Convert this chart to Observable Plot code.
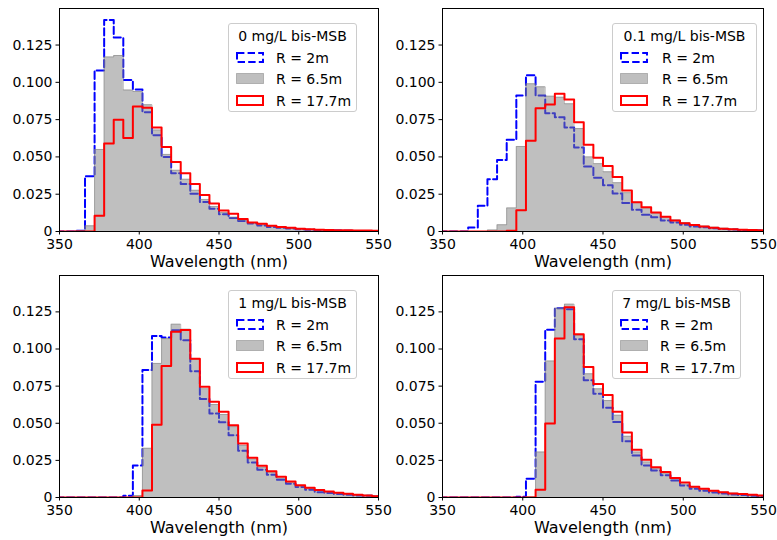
<!DOCTYPE html>
<html><head><meta charset="utf-8">
<script src="https://cdn.jsdelivr.net/npm/d3@7"></script>
<script src="https://cdn.jsdelivr.net/npm/@observablehq/plot@0.6"></script>
<style>
body{margin:0;background:#fff;font-family:"DejaVu Sans",sans-serif;}
#root{position:relative;width:777px;height:540px;overflow:hidden;background:#fff;}
.panel{position:absolute;}
.legend{position:absolute;background:rgba(255,255,255,0.8);border:1px solid #cccccc;border-radius:3px;box-sizing:border-box;font-size:14px;color:#000;font-family:"DejaVu Sans",sans-serif;}
.legend .t{position:absolute;left:0;right:0;text-align:center;line-height:16px;white-space:nowrap;}
.legend .row{position:absolute;left:0;right:0;height:16px;}
.legend .row svg{position:absolute;top:2px;}
.legend .row span{position:absolute;line-height:16px;white-space:nowrap;}
</style>
</head><body><div id="root"></div>
<script>
// bin edges (nm), 6 nm wide bins
const binEdges = [348,354,360,366,372,378,384,390,396,402,408,414,420,426,432,438,444,450,456,462,468,474,480,486,492,498,504,510,516,522,528,534,540,546,552];
const seriesNames = ["R = 2m","R = 6.5m","R = 17.7m"];
const panelTitles = ["0 mg/L bis-MSB","0.1 mg/L bis-MSB","1 mg/L bis-MSB","7 mg/L bis-MSB"];
const xLabel = "Wavelength (nm)";
const xTicks = [350,400,450,500,550];
const yTicks = [0,0.025,0.05,0.075,0.1,0.125];
const yTickLabels = ["0","0.025","0.050","0.075","0.100","0.125"];

// Panel 0 mg/L
const p0_r2   = [0,0,0.0005,0.037,0.108,0.1418,0.130,0.1015,0.0952,0.080,0.0645,0.050,0.039,0.0318,0.0253,0.0197,0.0152,0.0116,0.009,0.007,0.0054,0.004,0.003,0.0025,0.002,0.0015,0.0012,0.001,0.0008,0.0006,0.0005,0.0004,0.0003,0.0003];
const p0_r65  = [0,0,0.0005,0.0038,0.055,0.117,0.118,0.0948,0.0939,0.085,0.068,0.0517,0.041,0.035,0.0276,0.0215,0.0168,0.0128,0.0096,0.0076,0.0058,0.0046,0.0036,0.0029,0.0023,0.0018,0.0014,0.0011,0.0009,0.0007,0.0006,0.0005,0.0004,0.0003];
const p0_r177 = [0,0,0,0,0.0105,0.059,0.075,0.0627,0.0838,0.083,0.0697,0.0567,0.0466,0.039,0.0318,0.0244,0.0188,0.0141,0.0119,0.0083,0.006,0.0052,0.0038,0.0031,0.0025,0.0018,0.0015,0.0012,0.001,0.0009,0.0008,0.0007,0.0006,0.0005];
// Panel 0.1 mg/L
const p1_r2   = [0,0,0,0.0027,0.0173,0.035,0.048,0.0615,0.0912,0.1047,0.0912,0.0793,0.0766,0.0698,0.0563,0.0435,0.036,0.031,0.0255,0.0191,0.0146,0.0113,0.0095,0.0074,0.006,0.0045,0.0034,0.0028,0.0022,0.0017,0.0013,0.001,0.0008,0.0006];
const p1_r65  = [0,0,0,0,0,0.001,0.0045,0.0158,0.057,0.099,0.097,0.0907,0.090,0.0856,0.069,0.05,0.0455,0.040,0.0327,0.026,0.0196,0.0158,0.0124,0.0097,0.0077,0.006,0.0045,0.0036,0.0028,0.0022,0.0017,0.0013,0.001,0.0008];
const p1_r177 = [0,0,0,0,0,0,0,0.0005,0.0142,0.0608,0.0827,0.0851,0.0923,0.0885,0.0732,0.0581,0.0495,0.0439,0.0365,0.0275,0.0196,0.0162,0.0128,0.0099,0.0074,0.0056,0.0043,0.0034,0.0025,0.0018,0.0015,0.0012,0.001,0.0008];
// Panel 1 mg/L
const p2_r2   = [0,0,0,0,0,0,0,0.0011,0.0216,0.0858,0.1088,0.1077,0.1126,0.1059,0.0851,0.0664,0.0565,0.0507,0.0419,0.0315,0.0236,0.0187,0.0153,0.0119,0.0092,0.007,0.0052,0.0036,0.003,0.0024,0.0018,0.0014,0.0011,0.0009];
const p2_r65  = [0,0,0,0,0,0,0,0,0.0013,0.0331,0.0903,0.107,0.1167,0.1133,0.093,0.0732,0.0626,0.0559,0.0477,0.0351,0.0259,0.0203,0.0171,0.013,0.0104,0.0077,0.0061,0.0047,0.0038,0.003,0.0024,0.0019,0.0015,0.0012];
const p2_r177 = [0,0,0,0,0,0,0,0,0,0.0047,0.049,0.0885,0.1117,0.1128,0.0935,0.0745,0.0644,0.0577,0.0486,0.0363,0.0268,0.0214,0.0176,0.014,0.0108,0.0083,0.0065,0.005,0.0041,0.0032,0.0025,0.0018,0.0014,0.0009];
// Panel 7 mg/L
const p3_r2   = [0,0,0,0,0,0,0,0,0.0005,0.0126,0.078,0.113,0.1275,0.1268,0.1065,0.079,0.0698,0.0604,0.0509,0.0378,0.0282,0.0216,0.0182,0.0149,0.0115,0.0081,0.0059,0.0045,0.0034,0.0027,0.0021,0.0016,0.0012,0.0009];
const p3_r65  = [0,0,0,0,0,0,0,0,0,0.0005,0.0306,0.0919,0.1275,0.1302,0.1092,0.0833,0.0732,0.0653,0.0554,0.0412,0.0306,0.0239,0.0198,0.0164,0.0126,0.009,0.0068,0.0056,0.0045,0.0036,0.0029,0.0023,0.0018,0.0014];
const p3_r177 = [0,0,0,0,0,0,0,0,0,0,0.0052,0.0498,0.107,0.1282,0.11,0.0878,0.0764,0.0691,0.0577,0.0437,0.0322,0.0255,0.0203,0.0171,0.0131,0.0101,0.0072,0.0059,0.0045,0.0036,0.0027,0.0023,0.0018,0.0014];

const panels = [
  {title: panelTitles[0], s: [p0_r2, p0_r65, p0_r177], left: 0,   top: 0,   w: 388, h: 270, mr: 10, mb: 39, lg: {l:228, t:23, w:129}},
  {title: panelTitles[1], s: [p1_r2, p1_r65, p1_r177], left: 383, top: 0,   w: 394, h: 270, mr: 14, mb: 39, lg: {l:612, t:23, w:145}},
  {title: panelTitles[2], s: [p2_r2, p2_r65, p2_r177], left: 0,   top: 267, w: 388, h: 273, mr: 10, mb: 43, lg: {l:228, t:290, w:129}},
  {title: panelTitles[3], s: [p3_r2, p3_r65, p3_r177], left: 383, top: 267, w: 394, h: 273, mr: 14, mb: 43, lg: {l:612, t:290, w:129}}
];

// histogram step outline points built from bin edges and values
function stepPoints(vals) {
  const pts = [{x: binEdges[0], y: 0}];
  vals.forEach((v, i) => { pts.push({x: binEdges[i], y: v}); pts.push({x: binEdges[i+1], y: v}); });
  pts.push({x: binEdges[binEdges.length-1], y: 0});
  return pts;
}

const root = document.getElementById("root");
panels.forEach(p => {
  const [a, b, c] = p.s.map(stepPoints);
  const chart = Plot.plot({
    width: p.w, height: p.h,
    marginLeft: 59, marginRight: p.mr, marginTop: 8, marginBottom: p.mb,
    style: {fontFamily: "DejaVu Sans", fontSize: "14px", color: "#000", background: "transparent", overflow: "visible"},
    x: {domain: [350, 550]},
    y: {domain: [0, 0.1495]},
    marks: [
      Plot.line(a, {x: "x", y: "y", stroke: "#0000ff", strokeWidth: 2, strokeDasharray: "7.4,3.2", clip: true}),
      Plot.area(b, {x1: "x", y1: d => 0, y2: "y", fill: "#808080", fillOpacity: 0.5, clip: true}),
      Plot.line(b, {x: "x", y: "y", stroke: "#808080", strokeOpacity: 0.5, strokeWidth: 1, clip: true}),
      Plot.line(c, {x: "x", y: "y", stroke: "#ff0000", strokeWidth: 2, clip: true}),
      Plot.frame({stroke: "#000", strokeWidth: 1}),
      Plot.axisX({ticks: xTicks, tickSize: 3.5, tickPadding: 4, tickFormat: d => String(d), label: null}),
      Plot.axisY({ticks: yTicks, tickSize: 3.5, tickPadding: 3.5, tickFormat: (d, i) => yTickLabels[i], label: null}),
      Plot.text([xLabel], {text: d => d, frameAnchor: "bottom", lineAnchor: "middle", dy: 30, fontSize: 16, fill: "#000"})
    ]
  });
  const holder = document.createElement("div");
  holder.className = "panel";
  holder.style.left = p.left + "px";
  holder.style.top = p.top + "px";
  holder.appendChild(chart);
  root.appendChild(holder);

  // legend
  const lg = document.createElement("div");
  lg.className = "legend";
  lg.style.left = p.lg.l + "px";
  lg.style.top = p.lg.t + "px";
  lg.style.width = p.lg.w + "px";
  lg.style.height = "89px";
  let html = `<div class="t" style="top:4px">${p.title}</div>`;
  const patches = [
    `<rect x="1" y="1" width="26" height="9" fill="none" stroke="#0000ff" stroke-width="2" stroke-dasharray="7.4,3.2"/>`,
    `<rect x="0.5" y="0.5" width="27" height="10" fill="#808080" fill-opacity="0.5" stroke="#808080" stroke-opacity="0.5" stroke-width="1"/>`,
    `<rect x="1" y="1" width="26" height="9" fill="none" stroke="#ff0000" stroke-width="2"/>`
  ];
  seriesNames.forEach((n, i) => {
    const top = 25.5 + i * 21.5;
    html += `<div class="row" style="top:${top}px"><svg width="28" height="11" style="left:7px">${patches[i]}</svg><span style="left:${p.lg.w === 145 ? 49 : 47}px">${n}</span></div>`;
  });
  lg.innerHTML = html;
  root.appendChild(lg);
});
</script>
</body></html>
